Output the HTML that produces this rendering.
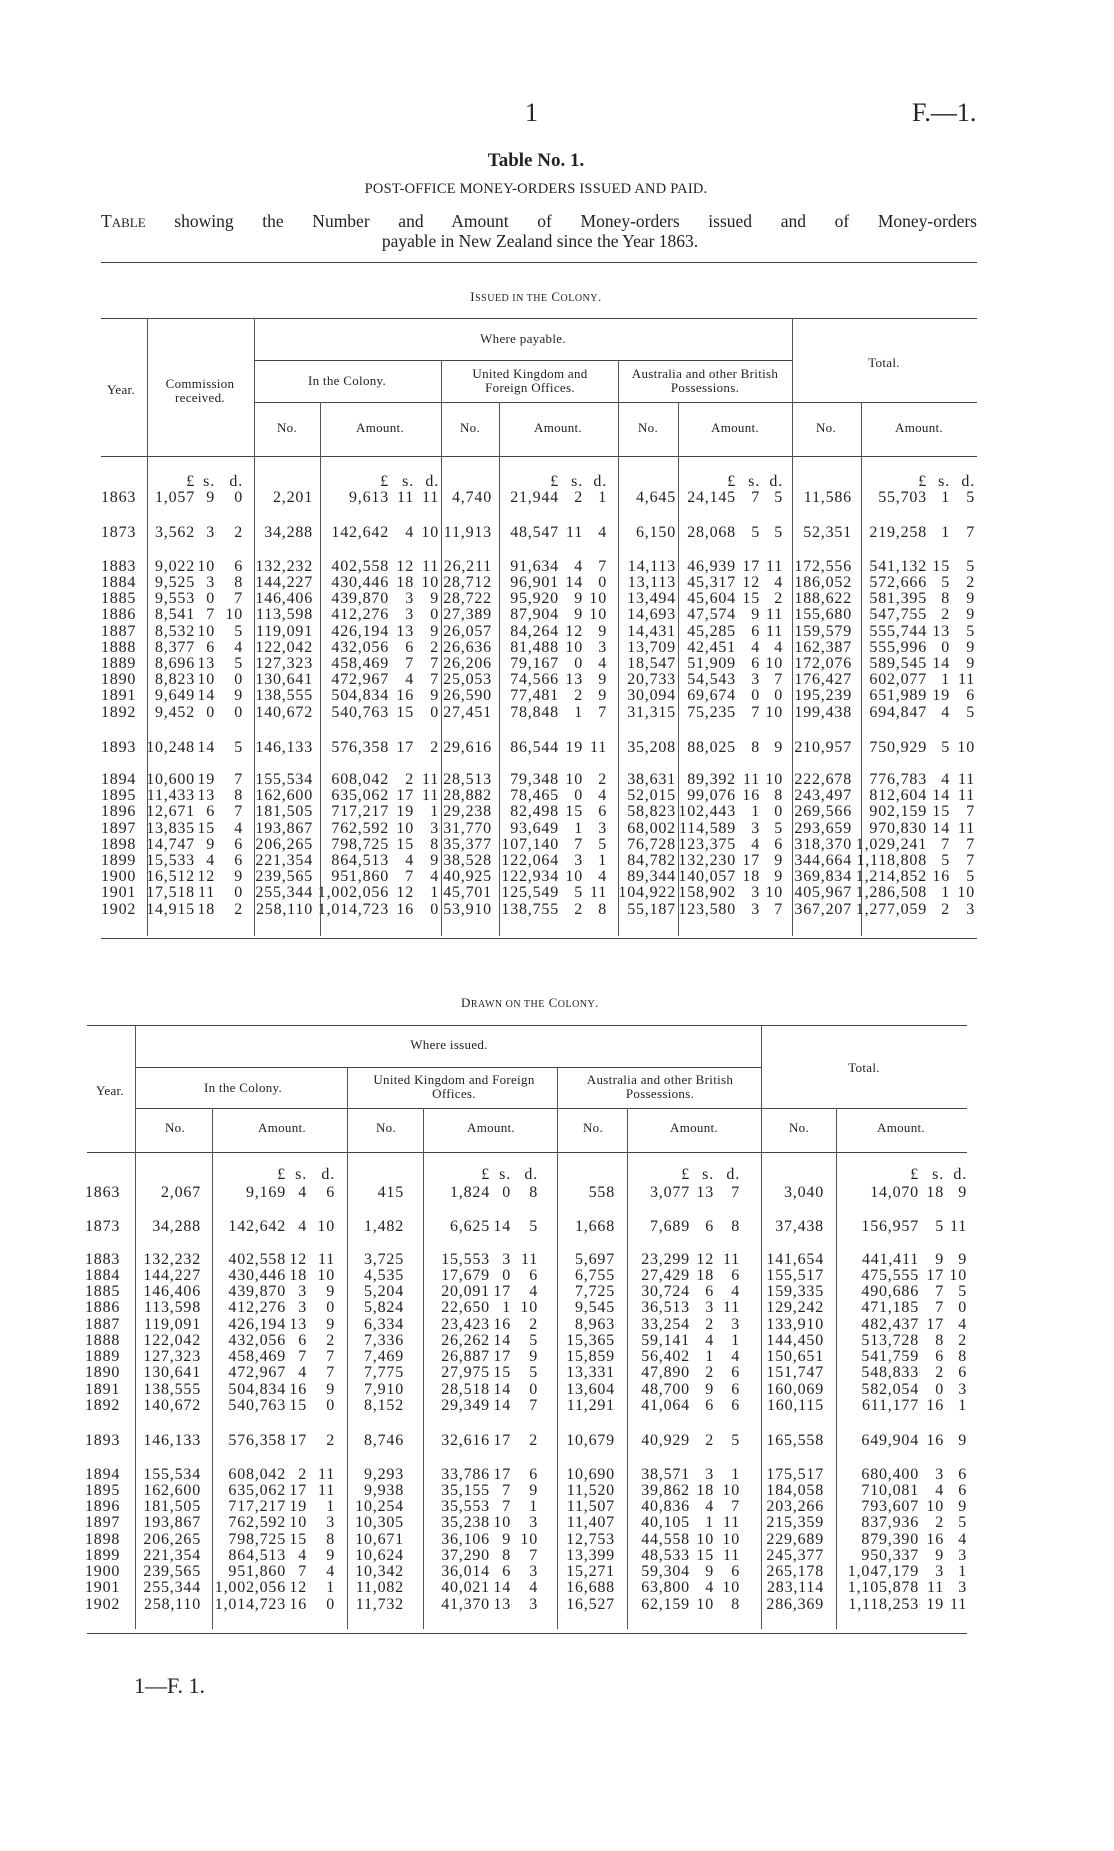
<!DOCTYPE html>
<html><head><meta charset="utf-8"><style>
body{margin:0;background:#fff;}
#p{position:relative;width:1114px;height:1851px;overflow:hidden;background:#fff;font-family:"Liberation Serif",serif;color:#222;}
.t{position:absolute;white-space:nowrap;}
.c{position:absolute;white-space:nowrap;text-align:center;transform:translateX(-50%);}
.h{position:absolute;height:0;border-top:1.5px solid #444;}
.v{position:absolute;width:0;border-left:1px solid #555;}
.hd{font-size:13px;line-height:14px;letter-spacing:0.3px;}
.row{position:absolute;left:0;width:1114px;height:18px;line-height:18px;font-size:16px;letter-spacing:0.8px;}
.row span{position:absolute;top:0;white-space:nowrap;}
.row .y{left:101px;}
.T1 .a{right:919px}.T1 .b{right:899px}.T1 .c3{right:871px}.T1 .d{right:801px}.T1 .e{right:725px}.T1 .f{right:700px}.T1 .g{right:675px}.T1 .h1{right:622px}.T1 .i{right:555px}.T1 .j{right:531px}.T1 .k{right:507px}.T1 .l{right:438px}.T1 .m{right:378px}.T1 .n{right:354px}.T1 .o{right:331px}.T1 .p1{right:262px}.T1 .q{right:187px}.T1 .r{right:164px}.T1 .s{right:139px}
.T2 .y{left:85px;}
.T2 .a{right:913px}.T2 .b{right:828px}.T2 .c3{right:807px}.T2 .d{right:779px}.T2 .e{right:710px}.T2 .f{right:624px}.T2 .g{right:603px}.T2 .h1{right:576px}.T2 .i{right:499px}.T2 .j{right:424px}.T2 .k{right:400px}.T2 .l{right:374px}.T2 .m{right:290px}.T2 .n{right:195px}.T2 .o{right:170px}.T2 .p1{right:147px}
</style></head><body><div id="p">

<div class="t" style="left:525px;top:98px;font-size:26px;">1</div>
<div class="t" style="left:912px;top:98px;font-size:26px;">F.—1.</div>
<div class="c" style="left:536px;top:150px;font-size:19px;font-weight:bold;">Table No. 1.</div>
<div class="c" style="left:536px;top:181px;font-size:14.5px;letter-spacing:0.2px;">POST-OFFICE MONEY-ORDERS ISSUED AND PAID.</div>
<div class="t" style="left:101px;top:211px;width:876px;font-size:17.5px;text-align:justify;text-align-last:justify;">T<span style="font-size:13px">ABLE</span> showing the Number and Amount of Money-orders issued and of Money-orders</div>
<div class="c" style="left:540px;top:231px;font-size:17.5px;">payable in New Zealand since the Year 1863.</div>
<div class="h" style="left:101px;top:262px;width:876px;"></div>

<div class="c" style="left:536px;top:289px;font-size:13px;letter-spacing:0.5px;">I<span style="font-size:10px">SSUED IN THE</span> C<span style="font-size:10px">OLONY</span>.</div>

<div class="h" style="left:101px;top:318px;width:876px;"></div>
<div class="h" style="left:254px;top:360px;width:538px;border-top-width:1px;"></div>
<div class="h" style="left:254px;top:402px;width:723px;border-top-width:1px;"></div>
<div class="h" style="left:101px;top:456px;width:876px;border-top-width:1px;"></div>
<div class="h" style="left:101px;top:938px;width:876px;"></div>
<div class="v" style="left:147px;top:318px;height:618px;"></div>
<div class="v" style="left:254px;top:318px;height:618px;"></div>
<div class="v" style="left:441px;top:360px;height:576px;"></div>
<div class="v" style="left:618px;top:360px;height:576px;"></div>
<div class="v" style="left:792px;top:318px;height:618px;"></div>
<div class="v" style="left:320px;top:402px;height:534px;"></div>
<div class="v" style="left:499px;top:402px;height:534px;"></div>
<div class="v" style="left:678px;top:402px;height:534px;"></div>
<div class="v" style="left:861px;top:402px;height:534px;"></div>

<div class="c hd" style="left:121px;top:383px;">Year.</div>
<div class="c hd" style="left:200px;top:377px;">Commission<br>received.</div>
<div class="c hd" style="left:523px;top:332px;">Where payable.</div>
<div class="c hd" style="left:347px;top:374px;">In the Colony.</div>
<div class="c hd" style="left:530px;top:367px;">United Kingdom and<br>Foreign Offices.</div>
<div class="c hd" style="left:705px;top:367px;">Australia and other British<br>Possessions.</div>
<div class="c hd" style="left:884px;top:356px;">Total.</div>
<div class="c hd" style="left:287px;top:421px;">No.</div>
<div class="c hd" style="left:380px;top:421px;">Amount.</div>
<div class="c hd" style="left:470px;top:421px;">No.</div>
<div class="c hd" style="left:558px;top:421px;">Amount.</div>
<div class="c hd" style="left:648px;top:421px;">No.</div>
<div class="c hd" style="left:735px;top:421px;">Amount.</div>
<div class="c hd" style="left:826px;top:421px;">No.</div>
<div class="c hd" style="left:919px;top:421px;">Amount.</div>

<div class="T1">
<div class="row" style="top:473px"><span class="a">£</span><span class="b">s.</span><span class="c3">d.</span><span class="e">£</span><span class="f">s.</span><span class="g">d.</span><span class="i">£</span><span class="j">s.</span><span class="k">d.</span><span class="m">£</span><span class="n">s.</span><span class="o">d.</span><span class="q">£</span><span class="r">s.</span><span class="s">d.</span></div>
<div class="row" style="top:489px"><span class="y">1863</span><span class="a">1,057</span><span class="b">9</span><span class="c3">0</span><span class="d">2,201</span><span class="e">9,613</span><span class="f">11</span><span class="g">11</span><span class="h1">4,740</span><span class="i">21,944</span><span class="j">2</span><span class="k">1</span><span class="l">4,645</span><span class="m">24,145</span><span class="n">7</span><span class="o">5</span><span class="p1">11,586</span><span class="q">55,703</span><span class="r">1</span><span class="s">5</span></div>
<div class="row" style="top:524px"><span class="y">1873</span><span class="a">3,562</span><span class="b">3</span><span class="c3">2</span><span class="d">34,288</span><span class="e">142,642</span><span class="f">4</span><span class="g">10</span><span class="h1">11,913</span><span class="i">48,547</span><span class="j">11</span><span class="k">4</span><span class="l">6,150</span><span class="m">28,068</span><span class="n">5</span><span class="o">5</span><span class="p1">52,351</span><span class="q">219,258</span><span class="r">1</span><span class="s">7</span></div>
<div class="row" style="top:558px"><span class="y">1883</span><span class="a">9,022</span><span class="b">10</span><span class="c3">6</span><span class="d">132,232</span><span class="e">402,558</span><span class="f">12</span><span class="g">11</span><span class="h1">26,211</span><span class="i">91,634</span><span class="j">4</span><span class="k">7</span><span class="l">14,113</span><span class="m">46,939</span><span class="n">17</span><span class="o">11</span><span class="p1">172,556</span><span class="q">541,132</span><span class="r">15</span><span class="s">5</span></div>
<div class="row" style="top:574px"><span class="y">1884</span><span class="a">9,525</span><span class="b">3</span><span class="c3">8</span><span class="d">144,227</span><span class="e">430,446</span><span class="f">18</span><span class="g">10</span><span class="h1">28,712</span><span class="i">96,901</span><span class="j">14</span><span class="k">0</span><span class="l">13,113</span><span class="m">45,317</span><span class="n">12</span><span class="o">4</span><span class="p1">186,052</span><span class="q">572,666</span><span class="r">5</span><span class="s">2</span></div>
<div class="row" style="top:590px"><span class="y">1885</span><span class="a">9,553</span><span class="b">0</span><span class="c3">7</span><span class="d">146,406</span><span class="e">439,870</span><span class="f">3</span><span class="g">9</span><span class="h1">28,722</span><span class="i">95,920</span><span class="j">9</span><span class="k">10</span><span class="l">13,494</span><span class="m">45,604</span><span class="n">15</span><span class="o">2</span><span class="p1">188,622</span><span class="q">581,395</span><span class="r">8</span><span class="s">9</span></div>
<div class="row" style="top:606px"><span class="y">1886</span><span class="a">8,541</span><span class="b">7</span><span class="c3">10</span><span class="d">113,598</span><span class="e">412,276</span><span class="f">3</span><span class="g">0</span><span class="h1">27,389</span><span class="i">87,904</span><span class="j">9</span><span class="k">10</span><span class="l">14,693</span><span class="m">47,574</span><span class="n">9</span><span class="o">11</span><span class="p1">155,680</span><span class="q">547,755</span><span class="r">2</span><span class="s">9</span></div>
<div class="row" style="top:623px"><span class="y">1887</span><span class="a">8,532</span><span class="b">10</span><span class="c3">5</span><span class="d">119,091</span><span class="e">426,194</span><span class="f">13</span><span class="g">9</span><span class="h1">26,057</span><span class="i">84,264</span><span class="j">12</span><span class="k">9</span><span class="l">14,431</span><span class="m">45,285</span><span class="n">6</span><span class="o">11</span><span class="p1">159,579</span><span class="q">555,744</span><span class="r">13</span><span class="s">5</span></div>
<div class="row" style="top:639px"><span class="y">1888</span><span class="a">8,377</span><span class="b">6</span><span class="c3">4</span><span class="d">122,042</span><span class="e">432,056</span><span class="f">6</span><span class="g">2</span><span class="h1">26,636</span><span class="i">81,488</span><span class="j">10</span><span class="k">3</span><span class="l">13,709</span><span class="m">42,451</span><span class="n">4</span><span class="o">4</span><span class="p1">162,387</span><span class="q">555,996</span><span class="r">0</span><span class="s">9</span></div>
<div class="row" style="top:655px"><span class="y">1889</span><span class="a">8,696</span><span class="b">13</span><span class="c3">5</span><span class="d">127,323</span><span class="e">458,469</span><span class="f">7</span><span class="g">7</span><span class="h1">26,206</span><span class="i">79,167</span><span class="j">0</span><span class="k">4</span><span class="l">18,547</span><span class="m">51,909</span><span class="n">6</span><span class="o">10</span><span class="p1">172,076</span><span class="q">589,545</span><span class="r">14</span><span class="s">9</span></div>
<div class="row" style="top:671px"><span class="y">1890</span><span class="a">8,823</span><span class="b">10</span><span class="c3">0</span><span class="d">130,641</span><span class="e">472,967</span><span class="f">4</span><span class="g">7</span><span class="h1">25,053</span><span class="i">74,566</span><span class="j">13</span><span class="k">9</span><span class="l">20,733</span><span class="m">54,543</span><span class="n">3</span><span class="o">7</span><span class="p1">176,427</span><span class="q">602,077</span><span class="r">1</span><span class="s">11</span></div>
<div class="row" style="top:687px"><span class="y">1891</span><span class="a">9,649</span><span class="b">14</span><span class="c3">9</span><span class="d">138,555</span><span class="e">504,834</span><span class="f">16</span><span class="g">9</span><span class="h1">26,590</span><span class="i">77,481</span><span class="j">2</span><span class="k">9</span><span class="l">30,094</span><span class="m">69,674</span><span class="n">0</span><span class="o">0</span><span class="p1">195,239</span><span class="q">651,989</span><span class="r">19</span><span class="s">6</span></div>
<div class="row" style="top:704px"><span class="y">1892</span><span class="a">9,452</span><span class="b">0</span><span class="c3">0</span><span class="d">140,672</span><span class="e">540,763</span><span class="f">15</span><span class="g">0</span><span class="h1">27,451</span><span class="i">78,848</span><span class="j">1</span><span class="k">7</span><span class="l">31,315</span><span class="m">75,235</span><span class="n">7</span><span class="o">10</span><span class="p1">199,438</span><span class="q">694,847</span><span class="r">4</span><span class="s">5</span></div>
<div class="row" style="top:739px"><span class="y">1893</span><span class="a">10,248</span><span class="b">14</span><span class="c3">5</span><span class="d">146,133</span><span class="e">576,358</span><span class="f">17</span><span class="g">2</span><span class="h1">29,616</span><span class="i">86,544</span><span class="j">19</span><span class="k">11</span><span class="l">35,208</span><span class="m">88,025</span><span class="n">8</span><span class="o">9</span><span class="p1">210,957</span><span class="q">750,929</span><span class="r">5</span><span class="s">10</span></div>
<div class="row" style="top:771px"><span class="y">1894</span><span class="a">10,600</span><span class="b">19</span><span class="c3">7</span><span class="d">155,534</span><span class="e">608,042</span><span class="f">2</span><span class="g">11</span><span class="h1">28,513</span><span class="i">79,348</span><span class="j">10</span><span class="k">2</span><span class="l">38,631</span><span class="m">89,392</span><span class="n">11</span><span class="o">10</span><span class="p1">222,678</span><span class="q">776,783</span><span class="r">4</span><span class="s">11</span></div>
<div class="row" style="top:787px"><span class="y">1895</span><span class="a">11,433</span><span class="b">13</span><span class="c3">8</span><span class="d">162,600</span><span class="e">635,062</span><span class="f">17</span><span class="g">11</span><span class="h1">28,882</span><span class="i">78,465</span><span class="j">0</span><span class="k">4</span><span class="l">52,015</span><span class="m">99,076</span><span class="n">16</span><span class="o">8</span><span class="p1">243,497</span><span class="q">812,604</span><span class="r">14</span><span class="s">11</span></div>
<div class="row" style="top:803px"><span class="y">1896</span><span class="a">12,671</span><span class="b">6</span><span class="c3">7</span><span class="d">181,505</span><span class="e">717,217</span><span class="f">19</span><span class="g">1</span><span class="h1">29,238</span><span class="i">82,498</span><span class="j">15</span><span class="k">6</span><span class="l">58,823</span><span class="m">102,443</span><span class="n">1</span><span class="o">0</span><span class="p1">269,566</span><span class="q">902,159</span><span class="r">15</span><span class="s">7</span></div>
<div class="row" style="top:820px"><span class="y">1897</span><span class="a">13,835</span><span class="b">15</span><span class="c3">4</span><span class="d">193,867</span><span class="e">762,592</span><span class="f">10</span><span class="g">3</span><span class="h1">31,770</span><span class="i">93,649</span><span class="j">1</span><span class="k">3</span><span class="l">68,002</span><span class="m">114,589</span><span class="n">3</span><span class="o">5</span><span class="p1">293,659</span><span class="q">970,830</span><span class="r">14</span><span class="s">11</span></div>
<div class="row" style="top:836px"><span class="y">1898</span><span class="a">14,747</span><span class="b">9</span><span class="c3">6</span><span class="d">206,265</span><span class="e">798,725</span><span class="f">15</span><span class="g">8</span><span class="h1">35,377</span><span class="i">107,140</span><span class="j">7</span><span class="k">5</span><span class="l">76,728</span><span class="m">123,375</span><span class="n">4</span><span class="o">6</span><span class="p1">318,370</span><span class="q">1,029,241</span><span class="r">7</span><span class="s">7</span></div>
<div class="row" style="top:852px"><span class="y">1899</span><span class="a">15,533</span><span class="b">4</span><span class="c3">6</span><span class="d">221,354</span><span class="e">864,513</span><span class="f">4</span><span class="g">9</span><span class="h1">38,528</span><span class="i">122,064</span><span class="j">3</span><span class="k">1</span><span class="l">84,782</span><span class="m">132,230</span><span class="n">17</span><span class="o">9</span><span class="p1">344,664</span><span class="q">1,118,808</span><span class="r">5</span><span class="s">7</span></div>
<div class="row" style="top:868px"><span class="y">1900</span><span class="a">16,512</span><span class="b">12</span><span class="c3">9</span><span class="d">239,565</span><span class="e">951,860</span><span class="f">7</span><span class="g">4</span><span class="h1">40,925</span><span class="i">122,934</span><span class="j">10</span><span class="k">4</span><span class="l">89,344</span><span class="m">140,057</span><span class="n">18</span><span class="o">9</span><span class="p1">369,834</span><span class="q">1,214,852</span><span class="r">16</span><span class="s">5</span></div>
<div class="row" style="top:884px"><span class="y">1901</span><span class="a">17,518</span><span class="b">11</span><span class="c3">0</span><span class="d">255,344</span><span class="e">1,002,056</span><span class="f">12</span><span class="g">1</span><span class="h1">45,701</span><span class="i">125,549</span><span class="j">5</span><span class="k">11</span><span class="l">104,922</span><span class="m">158,902</span><span class="n">3</span><span class="o">10</span><span class="p1">405,967</span><span class="q">1,286,508</span><span class="r">1</span><span class="s">10</span></div>
<div class="row" style="top:901px"><span class="y">1902</span><span class="a">14,915</span><span class="b">18</span><span class="c3">2</span><span class="d">258,110</span><span class="e">1,014,723</span><span class="f">16</span><span class="g">0</span><span class="h1">53,910</span><span class="i">138,755</span><span class="j">2</span><span class="k">8</span><span class="l">55,187</span><span class="m">123,580</span><span class="n">3</span><span class="o">7</span><span class="p1">367,207</span><span class="q">1,277,059</span><span class="r">2</span><span class="s">3</span></div>
</div>

<div class="c" style="left:530px;top:995px;font-size:13px;letter-spacing:0.5px;">D<span style="font-size:10px">RAWN ON THE</span> C<span style="font-size:10px">OLONY</span>.</div>

<div class="h" style="left:87px;top:1025px;width:880px;"></div>
<div class="h" style="left:135px;top:1067px;width:626px;border-top-width:1px;"></div>
<div class="h" style="left:135px;top:1108px;width:832px;border-top-width:1px;"></div>
<div class="h" style="left:87px;top:1152px;width:880px;border-top-width:1px;"></div>
<div class="h" style="left:87px;top:1633px;width:880px;"></div>
<div class="v" style="left:135px;top:1025px;height:604px;"></div>
<div class="v" style="left:347px;top:1067px;height:562px;"></div>
<div class="v" style="left:557px;top:1067px;height:562px;"></div>
<div class="v" style="left:761px;top:1025px;height:604px;"></div>
<div class="v" style="left:212px;top:1108px;height:521px;"></div>
<div class="v" style="left:423px;top:1108px;height:521px;"></div>
<div class="v" style="left:627px;top:1108px;height:521px;"></div>
<div class="v" style="left:836px;top:1108px;height:521px;"></div>

<div class="c hd" style="left:110px;top:1084px;">Year.</div>
<div class="c hd" style="left:449px;top:1038px;">Where issued.</div>
<div class="c hd" style="left:243px;top:1081px;">In the Colony.</div>
<div class="c hd" style="left:454px;top:1073px;">United Kingdom and Foreign<br>Offices.</div>
<div class="c hd" style="left:660px;top:1073px;">Australia and other British<br>Possessions.</div>
<div class="c hd" style="left:864px;top:1061px;">Total.</div>
<div class="c hd" style="left:175px;top:1121px;">No.</div>
<div class="c hd" style="left:282px;top:1121px;">Amount.</div>
<div class="c hd" style="left:386px;top:1121px;">No.</div>
<div class="c hd" style="left:491px;top:1121px;">Amount.</div>
<div class="c hd" style="left:593px;top:1121px;">No.</div>
<div class="c hd" style="left:694px;top:1121px;">Amount.</div>
<div class="c hd" style="left:799px;top:1121px;">No.</div>
<div class="c hd" style="left:901px;top:1121px;">Amount.</div>

<div class="T2">
<div class="row" style="top:1166px"><span class="b">£</span><span class="c3">s.</span><span class="d">d.</span><span class="f">£</span><span class="g">s.</span><span class="h1">d.</span><span class="j">£</span><span class="k">s.</span><span class="l">d.</span><span class="n">£</span><span class="o">s.</span><span class="p1">d.</span></div>
<div class="row" style="top:1184px"><span class="y">1863</span><span class="a">2,067</span><span class="b">9,169</span><span class="c3">4</span><span class="d">6</span><span class="e">415</span><span class="f">1,824</span><span class="g">0</span><span class="h1">8</span><span class="i">558</span><span class="j">3,077</span><span class="k">13</span><span class="l">7</span><span class="m">3,040</span><span class="n">14,070</span><span class="o">18</span><span class="p1">9</span></div>
<div class="row" style="top:1218px"><span class="y">1873</span><span class="a">34,288</span><span class="b">142,642</span><span class="c3">4</span><span class="d">10</span><span class="e">1,482</span><span class="f">6,625</span><span class="g">14</span><span class="h1">5</span><span class="i">1,668</span><span class="j">7,689</span><span class="k">6</span><span class="l">8</span><span class="m">37,438</span><span class="n">156,957</span><span class="o">5</span><span class="p1">11</span></div>
<div class="row" style="top:1251px"><span class="y">1883</span><span class="a">132,232</span><span class="b">402,558</span><span class="c3">12</span><span class="d">11</span><span class="e">3,725</span><span class="f">15,553</span><span class="g">3</span><span class="h1">11</span><span class="i">5,697</span><span class="j">23,299</span><span class="k">12</span><span class="l">11</span><span class="m">141,654</span><span class="n">441,411</span><span class="o">9</span><span class="p1">9</span></div>
<div class="row" style="top:1267px"><span class="y">1884</span><span class="a">144,227</span><span class="b">430,446</span><span class="c3">18</span><span class="d">10</span><span class="e">4,535</span><span class="f">17,679</span><span class="g">0</span><span class="h1">6</span><span class="i">6,755</span><span class="j">27,429</span><span class="k">18</span><span class="l">6</span><span class="m">155,517</span><span class="n">475,555</span><span class="o">17</span><span class="p1">10</span></div>
<div class="row" style="top:1283px"><span class="y">1885</span><span class="a">146,406</span><span class="b">439,870</span><span class="c3">3</span><span class="d">9</span><span class="e">5,204</span><span class="f">20,091</span><span class="g">17</span><span class="h1">4</span><span class="i">7,725</span><span class="j">30,724</span><span class="k">6</span><span class="l">4</span><span class="m">159,335</span><span class="n">490,686</span><span class="o">7</span><span class="p1">5</span></div>
<div class="row" style="top:1299px"><span class="y">1886</span><span class="a">113,598</span><span class="b">412,276</span><span class="c3">3</span><span class="d">0</span><span class="e">5,824</span><span class="f">22,650</span><span class="g">1</span><span class="h1">10</span><span class="i">9,545</span><span class="j">36,513</span><span class="k">3</span><span class="l">11</span><span class="m">129,242</span><span class="n">471,185</span><span class="o">7</span><span class="p1">0</span></div>
<div class="row" style="top:1316px"><span class="y">1887</span><span class="a">119,091</span><span class="b">426,194</span><span class="c3">13</span><span class="d">9</span><span class="e">6,334</span><span class="f">23,423</span><span class="g">16</span><span class="h1">2</span><span class="i">8,963</span><span class="j">33,254</span><span class="k">2</span><span class="l">3</span><span class="m">133,910</span><span class="n">482,437</span><span class="o">17</span><span class="p1">4</span></div>
<div class="row" style="top:1332px"><span class="y">1888</span><span class="a">122,042</span><span class="b">432,056</span><span class="c3">6</span><span class="d">2</span><span class="e">7,336</span><span class="f">26,262</span><span class="g">14</span><span class="h1">5</span><span class="i">15,365</span><span class="j">59,141</span><span class="k">4</span><span class="l">1</span><span class="m">144,450</span><span class="n">513,728</span><span class="o">8</span><span class="p1">2</span></div>
<div class="row" style="top:1348px"><span class="y">1889</span><span class="a">127,323</span><span class="b">458,469</span><span class="c3">7</span><span class="d">7</span><span class="e">7,469</span><span class="f">26,887</span><span class="g">17</span><span class="h1">9</span><span class="i">15,859</span><span class="j">56,402</span><span class="k">1</span><span class="l">4</span><span class="m">150,651</span><span class="n">541,759</span><span class="o">6</span><span class="p1">8</span></div>
<div class="row" style="top:1364px"><span class="y">1890</span><span class="a">130,641</span><span class="b">472,967</span><span class="c3">4</span><span class="d">7</span><span class="e">7,775</span><span class="f">27,975</span><span class="g">15</span><span class="h1">5</span><span class="i">13,331</span><span class="j">47,890</span><span class="k">2</span><span class="l">6</span><span class="m">151,747</span><span class="n">548,833</span><span class="o">2</span><span class="p1">6</span></div>
<div class="row" style="top:1381px"><span class="y">1891</span><span class="a">138,555</span><span class="b">504,834</span><span class="c3">16</span><span class="d">9</span><span class="e">7,910</span><span class="f">28,518</span><span class="g">14</span><span class="h1">0</span><span class="i">13,604</span><span class="j">48,700</span><span class="k">9</span><span class="l">6</span><span class="m">160,069</span><span class="n">582,054</span><span class="o">0</span><span class="p1">3</span></div>
<div class="row" style="top:1397px"><span class="y">1892</span><span class="a">140,672</span><span class="b">540,763</span><span class="c3">15</span><span class="d">0</span><span class="e">8,152</span><span class="f">29,349</span><span class="g">14</span><span class="h1">7</span><span class="i">11,291</span><span class="j">41,064</span><span class="k">6</span><span class="l">6</span><span class="m">160,115</span><span class="n">611,177</span><span class="o">16</span><span class="p1">1</span></div>
<div class="row" style="top:1432px"><span class="y">1893</span><span class="a">146,133</span><span class="b">576,358</span><span class="c3">17</span><span class="d">2</span><span class="e">8,746</span><span class="f">32,616</span><span class="g">17</span><span class="h1">2</span><span class="i">10,679</span><span class="j">40,929</span><span class="k">2</span><span class="l">5</span><span class="m">165,558</span><span class="n">649,904</span><span class="o">16</span><span class="p1">9</span></div>
<div class="row" style="top:1466px"><span class="y">1894</span><span class="a">155,534</span><span class="b">608,042</span><span class="c3">2</span><span class="d">11</span><span class="e">9,293</span><span class="f">33,786</span><span class="g">17</span><span class="h1">6</span><span class="i">10,690</span><span class="j">38,571</span><span class="k">3</span><span class="l">1</span><span class="m">175,517</span><span class="n">680,400</span><span class="o">3</span><span class="p1">6</span></div>
<div class="row" style="top:1482px"><span class="y">1895</span><span class="a">162,600</span><span class="b">635,062</span><span class="c3">17</span><span class="d">11</span><span class="e">9,938</span><span class="f">35,155</span><span class="g">7</span><span class="h1">9</span><span class="i">11,520</span><span class="j">39,862</span><span class="k">18</span><span class="l">10</span><span class="m">184,058</span><span class="n">710,081</span><span class="o">4</span><span class="p1">6</span></div>
<div class="row" style="top:1498px"><span class="y">1896</span><span class="a">181,505</span><span class="b">717,217</span><span class="c3">19</span><span class="d">1</span><span class="e">10,254</span><span class="f">35,553</span><span class="g">7</span><span class="h1">1</span><span class="i">11,507</span><span class="j">40,836</span><span class="k">4</span><span class="l">7</span><span class="m">203,266</span><span class="n">793,607</span><span class="o">10</span><span class="p1">9</span></div>
<div class="row" style="top:1514px"><span class="y">1897</span><span class="a">193,867</span><span class="b">762,592</span><span class="c3">10</span><span class="d">3</span><span class="e">10,305</span><span class="f">35,238</span><span class="g">10</span><span class="h1">3</span><span class="i">11,407</span><span class="j">40,105</span><span class="k">1</span><span class="l">11</span><span class="m">215,359</span><span class="n">837,936</span><span class="o">2</span><span class="p1">5</span></div>
<div class="row" style="top:1531px"><span class="y">1898</span><span class="a">206,265</span><span class="b">798,725</span><span class="c3">15</span><span class="d">8</span><span class="e">10,671</span><span class="f">36,106</span><span class="g">9</span><span class="h1">10</span><span class="i">12,753</span><span class="j">44,558</span><span class="k">10</span><span class="l">10</span><span class="m">229,689</span><span class="n">879,390</span><span class="o">16</span><span class="p1">4</span></div>
<div class="row" style="top:1547px"><span class="y">1899</span><span class="a">221,354</span><span class="b">864,513</span><span class="c3">4</span><span class="d">9</span><span class="e">10,624</span><span class="f">37,290</span><span class="g">8</span><span class="h1">7</span><span class="i">13,399</span><span class="j">48,533</span><span class="k">15</span><span class="l">11</span><span class="m">245,377</span><span class="n">950,337</span><span class="o">9</span><span class="p1">3</span></div>
<div class="row" style="top:1563px"><span class="y">1900</span><span class="a">239,565</span><span class="b">951,860</span><span class="c3">7</span><span class="d">4</span><span class="e">10,342</span><span class="f">36,014</span><span class="g">6</span><span class="h1">3</span><span class="i">15,271</span><span class="j">59,304</span><span class="k">9</span><span class="l">6</span><span class="m">265,178</span><span class="n">1,047,179</span><span class="o">3</span><span class="p1">1</span></div>
<div class="row" style="top:1579px"><span class="y">1901</span><span class="a">255,344</span><span class="b">1,002,056</span><span class="c3">12</span><span class="d">1</span><span class="e">11,082</span><span class="f">40,021</span><span class="g">14</span><span class="h1">4</span><span class="i">16,688</span><span class="j">63,800</span><span class="k">4</span><span class="l">10</span><span class="m">283,114</span><span class="n">1,105,878</span><span class="o">11</span><span class="p1">3</span></div>
<div class="row" style="top:1596px"><span class="y">1902</span><span class="a">258,110</span><span class="b">1,014,723</span><span class="c3">16</span><span class="d">0</span><span class="e">11,732</span><span class="f">41,370</span><span class="g">13</span><span class="h1">3</span><span class="i">16,527</span><span class="j">62,159</span><span class="k">10</span><span class="l">8</span><span class="m">286,369</span><span class="n">1,118,253</span><span class="o">19</span><span class="p1">11</span></div>
</div>

<div class="t" style="left:134px;top:1673px;font-size:22px;">1—F. 1.</div>
</div></body></html>
